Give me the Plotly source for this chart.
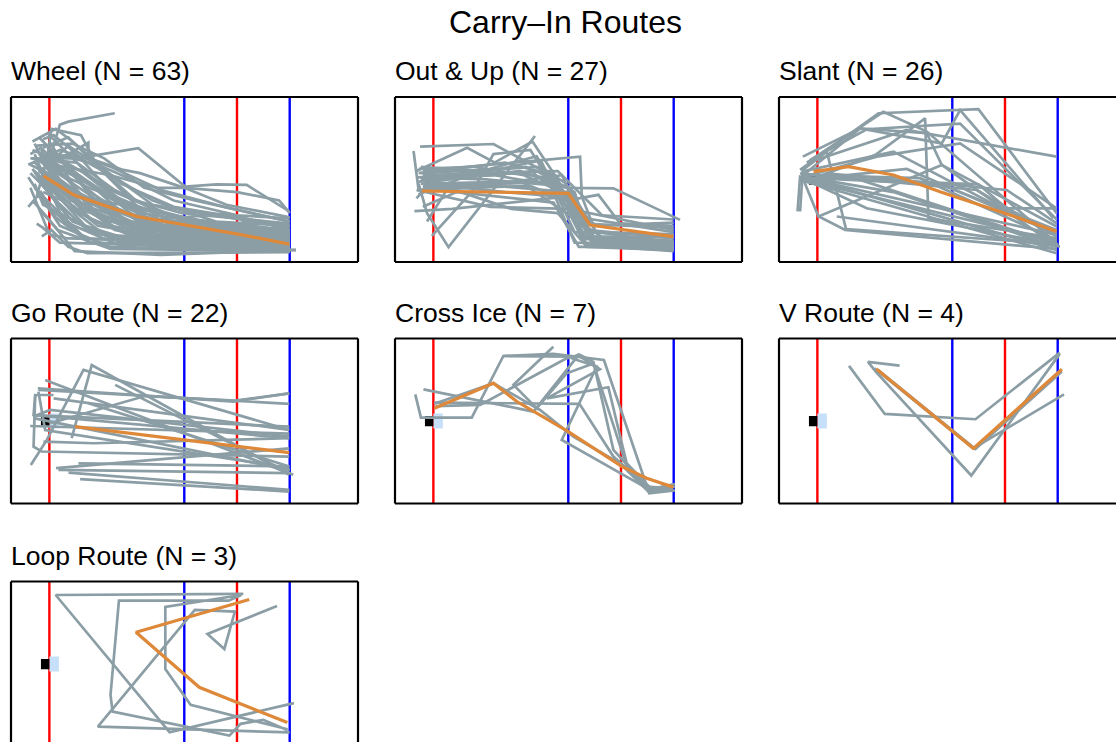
import plotly.graph_objects as go

# ---------------- rink geometry (feet, centre ice at x = 0) ----------------
GOAL_LINE_X = -89.0
CENTER_LINE_X = 0.0
BLUE_LINE_XS = [-25.0, 25.0]
NET_BOX = (-93.0, -89.0, -2.5, 2.3)        # x0, x1, y0, y1
CREASE_BOX = (-89.0, -84.5, -3.6, 3.5)
VIEW_X = (-107.2, 57.4)
VIEW_Y = (-39.1, 39.1)

# ---------------- route data: each route is a list of (x, y) in feet ----------------
ROUTE_NAMES = ["Wheel", "Out & Up", "Slant", "Go Route", "Cross Ice", "V Route", "Loop Route"]

WHEEL_ROUTES = [
    [(-92, 2), (-77, -7), (-48, -18), (-25, -22), (0, -26), (25, -31)],
    [(-96, 8), (-85, -2), (-60, -22), (-20, -29), (25, -32)],
    [(-94, 12), (-82, 4), (-70, -14), (-40, -27), (25, -33)],
    [(-90, 15), (-80, 6), (-62, -8), (-35, -22), (25, -28)],
    [(-97, 5), (-88, -8), (-70, -25), (-30, -31), (25, -33.5)],
    [(-93, -2), (-80, -18), (-55, -30), (25, -34)],
    [(-89, 18), (-84, 10), (-66, -12), (-45, -24), (25, -30)],
    [(-95, 10), (-76, 8), (-58, -5), (-40, -14), (-10, -22), (25, -27)],
    [(-98, 3), (-90, -5), (-78, -20), (-50, -30), (25, -32)],
    [(-91, 6), (-70, -4), (-50, -12), (-20, -20), (25, -25)],
    [(-94, 20), (-86, 12), (-74, -2), (-52, -20), (25, -29)],
    [(-96, -4), (-86, -14), (-72, -28), (0, -32), (25, -33)],
    [(-92, 9), (-80, 0), (-64, -19), (-30, -26), (25, -30)],
    [(-89, 4), (-76, -10), (-58, -24), (-20, -31), (25, -32.5)],
    [(-97, 14), (-88, 10), (-72, 3), (-58, -6), (-30, -18), (25, -24)],
    [(-93, 0), (-82, -6), (-60, -14), (-30, -23), (25, -29)],
    [(-90, 22), (-82, 14), (-66, -2), (-46, -16), (25, -26)],
    [(-95, 6), (-89, -2), (-75, -16), (-45, -29), (25, -31)],
    [(-88, 12), (-74, 4), (-56, -10), (-26, -24), (25, -28)],
    [(-99, 1), (-92, -10), (-84, -22), (-60, -32), (25, -34)],
    [(-94, -8), (-86, -16), (-70, -30), (28, -33.5)],
    [(-91, 10), (-78, 12), (-60, 2), (-40, -10), (-10, -20), (25, -22)],
    [(-96, 17), (-90, 5), (-80, -8), (-60, -20), (25, -27)],
    [(-92, 4), (-84, -4), (-68, -20), (-36, -30), (25, -32)],
    [(-90, 8), (-70, -2), (-54, -16), (25, -30)],
    [(-97, 10), (-85, 6), (-64, -6), (-44, -18), (25, -25.5)],
    [(-93, 14), (-86, 2), (-76, -12), (-52, -26), (25, -31)],
    [(-95, 2), (-81, -12), (-62, -27), (25, -33)],
    [(-89, 0), (-78, -4), (-56, -20), (-14, -27), (25, -29)],
    [(-94, 9), (-79, -1), (-66, -10), (-36, -22), (25, -24)],
    [(-92, -6), (-83, -10), (-72, -22), (-40, -32), (25, -33)],
    [(-98, 7), (-88, 2), (-72, -10), (-48, -22), (25, -27.5)],
    [(-90, 11), (-82, 8), (-70, -6), (-40, -24), (25, -29)],
    [(-96, 12), (-91, 0), (-82, -20), (-56, -31), (25, -32)],
    [(-93, 5), (-74, -8), (-46, -14), (-4, -22), (25, -26)],
    [(-90, 6), (-84, 26), (-80, 27.4), (-58, 31.4)],
    [(-95, -8), (-90, 10), (-88, 24), (-74, 21), (-66, 6), (-46, -14), (25, -28)],
    [(-94, 4), (-70.5, 17.5), (-70.5, 12), (-52, -8), (-20, -22), (25, -27)],
    [(-98, 10), (-76, 10), (-46.8, 14.8), (-24.6, -3.4), (-9.6, -2.3), (4.6, -2.6), (24.8, -15.2)],
    [(-93, 8), (-60, 2), (-38, -4), (-24.6, -4), (0, -6), (20, -10), (25, -16)],
    [(-91, 12), (-70, 10), (-53.9, 4.5), (-46, 3), (-25, -4), (-5, -12), (25, -18)],
    [(-95, 16), (-78, 17), (-63, 10), (-44, -4), (-20, -10), (25, -20)],
    [(-92, 15), (-80, 20), (-72, 12), (-55, -2), (-30, -13), (25, -22)],
    [(-97, 18), (-86, 24), (-78, 18), (-62, 4), (-40, -12), (25, -23)],
    [(-90, 13), (-66, 7), (-50, 0), (-30, -10), (0, -17), (25, -18.5)],
    [(-94, 3), (-80, 16), (-68, 8), (-48, -10), (-26, -16), (25, -21)],
    [(-99, 7), (-84, 14), (-60, 6), (-36, -5), (-6, -13), (25, -20)],
    [(-92, 19), (-87, 21), (-76, 12), (-58, -8), (-30, -20), (25, -25)],
    [(-95, -21), (-92, -23), (-84, -30), (25, -33)],
    [(-92.6, -27), (-88, -24), (-80, -32), (-71, -35), (25, -34.5)],
    [(-99, -13), (-93, -6), (-86, -18), (-70, -30), (25, -33)],
    [(-97, -10), (-90, -18), (-77, -34), (-36, -35.8), (28, -33.4)],
    [(-93, -15), (-85, -24), (-60, -33), (25, -34)],
    [(-98, -4), (-89, -26), (-80, -28), (25, -30.5)],
    [(-96, -2), (-92, -12), (-84, -16), (-66, -26), (25, -31.5)],
    [(-95, 0), (-80, -6), (-50, -20), (-10, -25), (4, -20), (12, -24), (25, -26)],
    [(-92, 7), (-75, 2), (-54, -12), (-25, -18), (-5, -16), (25, -24)],
    [(-90, -3), (-76, -14), (-46, -22), (-24, -24), (2, -28), (25, -28)],
    [(-96, 4), (-86, -6), (-66, -22), (-38, -27), (25, -28.5)],
    [(-89, 9), (-82, 2), (-68, -16), (-50, -24), (-15, -29), (25, -31)],
    [(-93, 11), (-84, 0), (-76, -6), (-55, -16), (-25, -27), (25, -30)],
    [(-98, 12), (-93, 15), (-84, 6), (-66, -4), (-45, -20), (25, -31)],
    [(-91, 1), (-79, -10), (-56, -18), (-32, -26), (25, -29.5)],
]
WHEEL_MEAN = [(-91.8, 1.7), (-77.6, -7.3), (-47.6, -17.6), (-25.4, -21.6), (-0.2, -25.8), (24.8, -30.7)]

OUT_UP_ROUTES = [
    [(-98.4, 13.5), (-96, -5), (-60, -3), (-25, -6), (-15, -24), (25, -28)],
    [(-95.3, 15.6), (-60.5, 16.8), (-35, 3), (-22, -14), (-10, -31), (25, -32)],
    [(-94, 4), (-88.9, 4.5), (-19.4, 10.8), (-18.6, -8.1), (-12, -25), (25, -30)],
    [(-96, -2), (-92, -16), (-81.8, -32.1), (-40.8, 20.6)],
    [(-89.7, -26.8), (-70, -5), (-60.5, 12), (-43, 14), (-28, -10), (-16, -28), (25, -30.5)],
    [(-97, 1), (-60, 2), (-25, -4), (-3.6, -4.2), (28, -19.2)],
    [(-95, 0), (-50, 3), (-30, 0), (-18, -27), (25, -33)],
    [(-96, -1), (-40, 4), (-22, -6), (-14, -30), (25, -31.5)],
    [(-94, -4), (-35, -1), (-25, -8), (-16, -32), (25, -33.5)],
    [(-93, -5), (-45, -3), (-20, -20), (-8, -28), (25, -29)],
    [(-95, 3), (-38, 6), (-26, -2), (-10, -28), (25, -27)],
    [(-96, -7), (-72, 2), (-38, 9), (-22, -25), (25, -26)],
    [(-94, 2), (-30, 4), (-9, -17), (25, -19)],
    [(-95, -2), (-48, -1), (-26, -10), (-10.7, -7.3), (-0.5, -20.8), (25, -22)],
    [(-97, -5), (-62, -13), (-25, -14), (25, -24)],
    [(-98, -15), (-80, -14), (-25, -8), (-19, -28), (25, -32)],
    [(-94, -13), (-78, -6), (-32, -11), (-20, -32), (25, -32)],
    [(-93, 1), (-64, 0), (-30, -3), (-18, -21), (25, -23)],
    [(-96, 3), (-55, 8), (-32, 2), (-20, -18), (25, -25)],
    [(-94, -3), (-58, -2), (-28, 2), (-15, -28), (25, -29.5)],
    [(-92, -20), (-82, -4), (-52, -14), (-30, -16), (-17, -31), (25, -33)],
    [(-97, 4), (-73, 15), (-60, 8), (-42, 18), (-30, 0), (-19, -27), (25, -27.5)],
    [(-95, 1), (-45, 6), (-33, -4), (-22, -30), (25, -31)],
    [(-96, 5), (-70, 6), (-46, 2), (-28, -6), (-12, -22), (25, -20.5)],
    [(-93, -2), (-55, -6), (-30, -8), (-16, -25), (25, -26)],
    [(-97, -9), (-90, -1), (-48, 4), (-24, -4), (-13, -29), (25, -30)],
    [(-95, 6), (-66, 4), (-40, 11), (-30, -5), (-17, -31), (25, -34)],
]
OUT_UP_MEAN = [(-94.5, -5.5), (-25.0, -6.6), (-14.7, -21.6), (24.8, -27.1)]

SLANT_ROUTES = [
    [(-97.2, 4.5), (-60.0, 31.4), (-12.6, 33.3), (24.5, -16.0)],
    [(-94.0, 8.0), (-57.7, 32.1), (-37.1, 22.7), (24.5, -30.3)],
    [(-95.9, 10.8), (-68.7, 24.2), (-37.1, 21.9), (-30.0, 6.9), (24.5, -31.8)],
    [(-97.2, -15.2), (-95.9, 4.5), (-84.5, 13.2), (-75.4, -23.6), (24.5, -30.6)],
    [(-93.2, 8.0), (-46.6, 23.5), (24.5, 10.8)],
    [(-92.4, -0.2), (-61.6, 11.6), (-37.9, 29.0), (-36.3, -18.4), (24.5, -27.9)],
    [(-95.6, -0.2), (-88.5, -17.6), (-30.0, 6.9), (24.5, -22.3)],
    [(-96.4, 1.0), (-60.8, 10.8), (-21.3, 17.1), (24.5, -13.7)],
    [(-95.6, 2.1), (-68.7, 24.2), (-30.0, 17.1), (-21.3, 32.9), (22.9, -18.4)],
    [(-68.7, -0.2), (25.3, -31.0)],
    [(-79.8, -17.6), (26.1, -31.8)],
    [(-94.0, 0.6), (24.5, -33.4)],
    [(-95.6, -0.2), (24.5, -29.5)],
    [(-97.2, 2.9), (-13.4, -5.0), (24.5, -27.1)],
    [(-95.6, 1.0), (-12.6, -2.3), (0.8, -13.7), (24.5, -13.7)],
    [(-94.8, -1.0), (24.5, -35.0)],
    [(-84.5, 2.9), (0.8, -5.0), (24.5, -20.8)],
    [(-96.4, 3.7), (-52.9, 13.2), (10.3, -20.0), (24.5, -24.7)],
    [(-98.4, -15.2), (-97.2, 1.3), (24.5, -26.3)],
    [(-93.2, 2.1), (-40.3, 0.6), (24.5, -28.7)],
    [(-95.6, 1.3), (-52.9, -6.0), (24.5, -32.0)],
    [(-97.2, 1.0), (-30.8, -2.3), (24.5, -24.0)],
    [(-95.9, 0.6), (-65.6, -13.7), (24.5, -31.0)],
    [(-92.4, 9.2), (-65.6, 23.8), (-21.3, 26.5), (24.5, -19.0)],
    [(-88.5, -17.5), (-75.8, -24.0), (24.5, -33.0)],
    [(-94.0, 0.0), (-46.6, 5.0), (24.5, -26.0)],
]
SLANT_MEAN = [(-90.8, 3.7), (-74.2, 6.1), (-52.9, 2.1), (-30.8, -5.8), (0.0, -16.0), (24.5, -24.7)]

GO_ROUTES = [
    [(-94.5, 15.5), (-1.7, 9.2), (24.8, 13.1)],
    [(-94.2, 14.7), (24.8, 8.1)],
    [(-91.0, 19.4), (24.8, -24.8)],
    [(-78.4, -8.2), (-68.9, 26.5), (24.8, -25.6)],
    [(-97.8, -20.9), (-90.2, -9.0), (-72.8, 24.2), (24.8, -4.3)],
    [(-57.8, 17.1), (26.7, -25.6)],
    [(-70.5, 8.4), (24.8, -21.6)],
    [(-96.5, 2.8), (24.8, -2.7)],
    [(-98.1, -2.4), (24.8, -6.0)],
    [(-96.5, 2.1), (-88.6, 5.2), (24.8, -7.4)],
    [(-87.0, 12.3), (-95.7, 12.3), (-96.5, 2.8), (24.8, -8.2)],
    [(-85.8, -22.4), (24.8, -13.0)],
    [(-84.7, -23.2), (24.8, -24.8)],
    [(-79.9, -24.5), (24.8, -32.7)],
    [(-74.4, -27.6), (24.8, -33.5)],
    [(-75.2, -20.1), (24.8, -21.6)],
    [(-91.8, -9.8), (-68.1, -10.6), (24.8, -8.2)],
    [(-88.6, -1.1), (-43.6, 11.8), (-0.9, 9.6), (24.8, 13.1)],
    [(-94.2, 13.9), (-91.0, -4.3), (24.8, -22.4)],
    [(-95.7, 12.3), (-96.5, -12.2), (-92.6, -14.5), (24.8, -16.9)],
    [(-87.0, 10.7), (24.8, -4.3)],
    [(-96.5, 1.3), (25.1, -23.2)],
]
GO_MEAN = [(-76.8, -2.7), (24.8, -15.0)]

CROSS_ICE_ROUTES = [
    [(-97.6, 12.6), (-94.9, 1.6), (-70.8, 1.6), (-55.8, 30.8), (-32.1, 31.8), (-8.1, 28.9), (13.4, -34.3), (25.6, -33.0)],
    [(-93.7, 15.0), (-41.5, 4.4), (-19.7, 31.8), (-23.4, 29.7), (-11.5, 25.8), (-28.1, -9.0), (13.7, -32.7), (25.1, -31.1)],
    [(-88.5, 8.7), (-19.7, 8.1), (-3.6, -16.9), (12.2, -31.1), (24.8, -32.1)],
    [(-32.1, 35.2), (-51.0, 17.1), (-40.0, 6.0), (-25.8, 22.6), (-13.1, 27.3), (3.5, -24.0), (15.3, -33.5), (25.6, -31.1)],
    [(-55.8, 30.8), (-19.4, 30.5), (-10.0, 24.5), (-35.2, 10.7), (-6.0, 16.0), (2.7, -20.1), (14.5, -32.4), (24.8, -30.3)],
    [(-88.5, 8.1), (-60.5, 17.9), (-38.4, 5.2), (-22.6, -7.4), (-0.5, -20.1), (13.0, -33.5), (24.8, -32.7)],
    [(-88.0, 7.0), (-66.8, 7.6), (-25.8, 29.7), (-19.4, 31.3), (-13.1, 28.0), (-3.6, -13.7), (13.4, -32.4), (25.6, -29.9)],
]
CROSS_ICE_MEAN = [(-88.5, 6.0), (-60.5, 17.9), (-49.4, 9.2), (-25.0, -5.1), (0.3, -21.6), (12.2, -27.2), (24.8, -31.4)]

V_ROUTES = [
    [(-74, 26.1), (-57, 3.3), (-14, 0.8), (26, 32.4)],
    [(-50, 26.2), (-65, 28.0), (-61, 23.0), (-16, -25.9), (26, 31.8)],
    [(-62, 25.0), (-15, -13.0), (28, 12.6)],
    [(-60, 24.0), (-14, -13.3), (27, 23.5)],
]
V_MEAN = [(-61, 24.6), (-15, -13.0), (27, 24.5)]

LOOP_ROUTES = [
    [(3, 33.2), (-86, 32.7), (-32, -32.4), (27, -18.6)],
    [(19, 27.5), (-14, 14.2), (-6, 7.1), (-1, 24.8), (-20, 25.6), (-66, -29.7), (25, -32.5)],
    [(24, -31), (-22, -19.4), (-34, -2.4), (-34, 27), (2, 32.7), (-4, 30), (-56, 30), (-60, -14.7),
     (-59, -22.6), (-3.6, -34), (1.7, -28.4), (12.5, -26.5), (24, -31.5)],
]
LOOP_MEAN = [(5.8, 30.6), (-47.9, 15.0), (-17.9, -11.1), (23.9, -27.8)]

ALL_ROUTES = [WHEEL_ROUTES, OUT_UP_ROUTES, SLANT_ROUTES, GO_ROUTES, CROSS_ICE_ROUTES, V_ROUTES, LOOP_ROUTES]
ALL_MEANS = [WHEEL_MEAN, OUT_UP_MEAN, SLANT_MEAN, GO_MEAN, CROSS_ICE_MEAN, V_MEAN, LOOP_MEAN]

# ---------------- page layout (pixels) ----------------
W, H = 1116, 742
COL_LEFT = [11, 395, 779]
ROW_TOP = [97, 338.5, 581.5]
PANEL_W, PANEL_H = 347, 165
SCALE = PANEL_W / (VIEW_X[1] - VIEW_X[0])   # px per foot

ROUTE_COLOR = "#8c9ea5"
MEAN_COLOR = "#de883a"
RED = "#ff0000"
BLUE = "#0000ff"
NET_COLOR = "#000000"
CREASE_COLOR = "#c6e0fa"
FONT = "Liberation Sans, Arial, sans-serif"


def px_x(p):
    return p / W


def px_y(p):
    return 1 - p / H


def flatten(routes):
    xs, ys = [], []
    for r in routes:
        for x, y in r:
            xs.append(x)
            ys.append(y)
        xs.append(None)
        ys.append(None)
    return xs, ys


fig = go.Figure()
shapes = []
annotations = []
layout_axes = {}

for i, (name, routes, mean) in enumerate(zip(ROUTE_NAMES, ALL_ROUTES, ALL_MEANS)):
    n = i + 1
    row, col = divmod(i, 3)
    left = COL_LEFT[col]
    top = ROW_TOP[row]
    right = min(left + PANEL_W, W)
    bottom = min(top + PANEL_H, H)
    xr = [VIEW_X[0], VIEW_X[0] + (right - left) / SCALE]
    yr = [VIEW_Y[1] - (bottom - top) / SCALE, VIEW_Y[1]]
    sfx = "" if n == 1 else str(n)
    layout_axes["xaxis" + sfx] = dict(domain=[px_x(left), px_x(right)], range=xr, visible=False,
                                      anchor="y" + sfx, fixedrange=True)
    layout_axes["yaxis" + sfx] = dict(domain=[px_y(bottom), px_y(top)], range=yr, visible=False,
                                      anchor="x" + sfx, fixedrange=True)
    xref, yref = "x" + sfx, "y" + sfx

    # rink markings under the routes
    for lx, c in [(GOAL_LINE_X, RED), (BLUE_LINE_XS[0], BLUE), (CENTER_LINE_X, RED), (BLUE_LINE_XS[1], BLUE)]:
        shapes.append(dict(type="line", xref=xref, yref=yref + " domain", x0=lx, x1=lx, y0=0, y1=1,
                           line=dict(color=c, width=2.4), layer="below"))
    shapes.append(dict(type="rect", xref=xref, yref=yref, x0=CREASE_BOX[0], x1=CREASE_BOX[1],
                       y0=CREASE_BOX[2], y1=CREASE_BOX[3], fillcolor=CREASE_COLOR,
                       line=dict(width=0), layer="below"))
    shapes.append(dict(type="rect", xref=xref, yref=yref, x0=NET_BOX[0], x1=NET_BOX[1],
                       y0=NET_BOX[2], y1=NET_BOX[3], fillcolor=NET_COLOR,
                       line=dict(width=0), layer="below"))

    xs, ys = flatten(routes)
    fig.add_trace(go.Scatter(x=xs, y=ys, xaxis=xref, yaxis=yref, mode="lines",
                             line=dict(color=ROUTE_COLOR, width=2.7), hoverinfo="skip",
                             showlegend=False, connectgaps=False))
    mx = [p[0] for p in mean]
    my = [p[1] for p in mean]
    fig.add_trace(go.Scatter(x=mx, y=my, xaxis=xref, yaxis=yref, mode="lines",
                             line=dict(color=MEAN_COLOR, width=3.2), hoverinfo="skip", showlegend=False))

    # panel frame (edges that fall outside the page are not drawn)
    frame = dict(type="line", xref="paper", yref="paper", line=dict(color="black", width=2.2), layer="above")
    shapes.append({**frame, "x0": px_x(left), "x1": px_x(right), "y0": px_y(top), "y1": px_y(top)})
    shapes.append({**frame, "x0": px_x(left), "x1": px_x(left), "y0": px_y(top), "y1": px_y(bottom)})
    if left + PANEL_W <= W:
        shapes.append({**frame, "x0": px_x(right), "x1": px_x(right), "y0": px_y(top), "y1": px_y(bottom)})
    if top + PANEL_H <= H:
        shapes.append({**frame, "x0": px_x(left), "x1": px_x(right), "y0": px_y(bottom), "y1": px_y(bottom)})

    annotations.append(dict(text=f"{name} (N = {len(routes)})", xref="paper", yref="paper",
                            x=px_x(left - 2), y=px_y(top - 25.5), xanchor="left", yanchor="middle",
                            showarrow=False, font=dict(family=FONT, size=26.5, color="black")))

annotations.append(dict(text="Carry–In Routes", xref="paper", yref="paper", x=px_x(565.5), y=px_y(21.5),
                        xanchor="center", yanchor="middle", showarrow=False,
                        font=dict(family=FONT, size=32, color="black")))

fig.update_layout(width=W, height=H, margin=dict(l=0, r=0, t=0, b=0),
                  paper_bgcolor="white", plot_bgcolor="white",
                  shapes=shapes, annotations=annotations, showlegend=False, **layout_axes)

fig.write_html("out.html")
